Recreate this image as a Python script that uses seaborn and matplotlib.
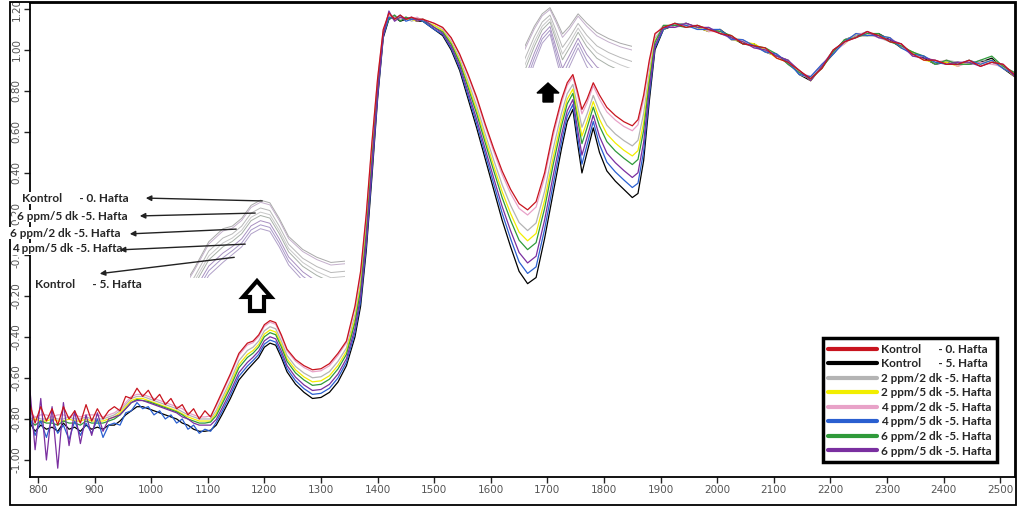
import matplotlib
matplotlib.use("Agg")
import matplotlib.pyplot as plt
import numpy as np
import pandas as pd
import seaborn as sns
from matplotlib.lines import Line2D
from matplotlib.patches import Polygon, Rectangle, FancyArrowPatch

# Dalga boyu (nm)
wavenumber = [
    786, 795, 805, 815, 825, 835, 845, 855, 865, 875, 885, 895, 905, 915, 925, 935, 945,
    955, 965, 975, 985, 995, 1005, 1015, 1025, 1035, 1045, 1055, 1065, 1075, 1085, 1095, 1105,
    1115, 1125, 1140, 1155, 1170, 1180, 1190, 1200, 1210, 1220, 1230, 1240, 1255, 1270, 1285,
    1300, 1315, 1330, 1345, 1360, 1370, 1380, 1390, 1400, 1410,
    1420, 1430, 1440, 1450, 1460, 1470, 1480, 1490, 1500,
    1515, 1530, 1545, 1560, 1575, 1590, 1605, 1620, 1635, 1650, 1665, 1680,
    1695, 1710, 1725, 1735, 1745, 1753, 1761, 1770, 1781, 1792, 1805, 1820, 1835, 1850,
    1860, 1870, 1880, 1890,
    1905, 1925, 1945, 1965, 1985, 2005, 2025, 2045, 2065, 2085, 2105, 2125, 2145, 2165,
    2185, 2205, 2225, 2245, 2265, 2285, 2305, 2325, 2345, 2365, 2385, 2405, 2425, 2445,
    2465, 2485, 2505, 2525,
]

kontrol_0 = [
    -0.73, -0.82, -0.74, -0.81, -0.75, -0.83, -0.74, -0.80, -0.76, -0.82, -0.73, -0.81, -0.75,
    -0.80, -0.76, -0.74, -0.76, -0.69, -0.70, -0.65, -0.69, -0.66, -0.71, -0.68, -0.73, -0.70,
    -0.75, -0.73, -0.78, -0.75, -0.80, -0.76, -0.79,
    -0.73, -0.67, -0.58, -0.48, -0.43, -0.42, -0.39, -0.34, -0.32, -0.33, -0.39, -0.46, -0.51,
    -0.54, -0.56, -0.555, -0.53, -0.48, -0.42, -0.25, -0.08, 0.20, 0.55, 0.86, 1.10,
    1.18, 1.15, 1.17, 1.15, 1.16, 1.15, 1.15, 1.14, 1.13,
    1.11, 1.06, 0.98, 0.88, 0.77, 0.64, 0.52, 0.41, 0.32, 0.25, 0.22, 0.26,
    0.40, 0.60, 0.76, 0.84, 0.88, 0.80, 0.71, 0.76, 0.84, 0.78, 0.72, 0.68, 0.65, 0.63, 0.66,
    0.78, 0.95, 1.08,
    1.11, 1.13, 1.11, 1.12, 1.10, 1.08, 1.07, 1.03, 1.02, 1.01, 0.96, 0.94, 0.90, 0.86, 0.91,
    1.00, 1.04, 1.06, 1.09, 1.07, 1.04, 1.03, 0.98, 0.95, 0.95, 0.93, 0.93, 0.95, 0.92, 0.94,
    0.93, 0.88,
]

kontrol_5 = [
    -0.82, -0.86, -0.83, -0.85, -0.84, -0.86, -0.82, -0.85, -0.84, -0.86, -0.83, -0.85, -0.84,
    -0.85, -0.83, -0.83, -0.81, -0.78, -0.76, -0.74, -0.74, -0.75, -0.76, -0.77, -0.78, -0.79,
    -0.80, -0.82, -0.83, -0.85, -0.86, -0.86, -0.855,
    -0.83, -0.78, -0.70, -0.61, -0.56, -0.53, -0.50, -0.45, -0.43, -0.44, -0.50, -0.57, -0.63,
    -0.67, -0.70, -0.695, -0.67, -0.62, -0.54, -0.40, -0.25, 0.02, 0.38, 0.76, 1.06,
    1.15, 1.16, 1.14, 1.15, 1.15, 1.14, 1.14, 1.12, 1.10,
    1.07, 1.00, 0.90, 0.76, 0.62, 0.47, 0.32, 0.17, 0.04, -0.08, -0.14, -0.11,
    0.08, 0.30, 0.52, 0.65, 0.71, 0.55, 0.40, 0.50, 0.62, 0.50, 0.41, 0.36, 0.32, 0.28, 0.30,
    0.46, 0.75, 1.00,
    1.10, 1.12, 1.13, 1.11, 1.09, 1.10, 1.06, 1.03, 1.03, 0.99, 0.97, 0.95, 0.88, 0.85, 0.92,
    0.98, 1.05, 1.07, 1.07, 1.08, 1.05, 1.01, 0.99, 0.96, 0.93, 0.94, 0.94, 0.93, 0.94, 0.96,
    0.91, 0.87,
]

ppm2_dk2 = [
    -0.80, -0.79, -0.80, -0.80, -0.79, -0.80, -0.80, -0.79, -0.80, -0.80, -0.79, -0.80, -0.80,
    -0.80, -0.79, -0.78, -0.76, -0.73, -0.70, -0.69, -0.69, -0.70, -0.71, -0.72, -0.73, -0.74,
    -0.75, -0.765, -0.78, -0.79, -0.80, -0.80, -0.80,
    -0.758, -0.70, -0.614, -0.516, -0.466, -0.45, -0.42, -0.37, -0.35, -0.36, -0.42, -0.49,
    -0.544, -0.576, -0.599, -0.594, -0.569, -0.519, -0.454, -0.292, -0.128, 0.15, 0.502, 0.832,
    1.089,
    1.16, 1.17, 1.15, 1.16, 1.14, 1.15, 1.15, 1.13, 1.12,
    1.099, 1.043, 0.958, 0.846, 0.728, 0.592, 0.464, 0.343, 0.242, 0.158, 0.119, 0.156,
    0.31, 0.516, 0.693, 0.787, 0.832, 0.73, 0.623, 0.687, 0.778, 0.702, 0.633, 0.59, 0.558,
    0.532, 0.559, 0.69, 0.894, 1.058,
    1.11, 1.12, 1.13, 1.10, 1.11, 1.08, 1.06, 1.05, 1.02, 0.99, 0.97, 0.95, 0.88, 0.86, 0.93,
    0.98, 1.05, 1.07, 1.09, 1.06, 1.04, 1.03, 0.98, 0.97, 0.93, 0.95, 0.94, 0.93, 0.95, 0.94,
    0.91, 0.88,
]

ppm2_dk5 = [
    -0.81, -0.80, -0.81, -0.81, -0.80, -0.81, -0.81, -0.80, -0.81, -0.81, -0.80, -0.81, -0.81,
    -0.81, -0.80, -0.79, -0.77, -0.74, -0.71, -0.70, -0.70, -0.71, -0.72, -0.73, -0.74, -0.75,
    -0.76, -0.775, -0.79, -0.80, -0.81, -0.81, -0.81,
    -0.772, -0.716, -0.63, -0.535, -0.485, -0.466, -0.436, -0.386, -0.366, -0.376, -0.436,
    -0.506, -0.56, -0.595, -0.619, -0.614, -0.589, -0.539, -0.47, -0.313, -0.151, 0.124, 0.479,
    0.818, 1.083,
    1.16, 1.15, 1.16, 1.15, 1.15, 1.14, 1.15, 1.13, 1.12,
    1.093, 1.035, 0.946, 0.83, 0.707, 0.569, 0.436, 0.309, 0.202, 0.111, 0.069, 0.105,
    0.266, 0.474, 0.659, 0.76, 0.809, 0.695, 0.58, 0.651, 0.748, 0.662, 0.59, 0.546, 0.511,
    0.483, 0.509, 0.646, 0.866, 1.046,
    1.10, 1.13, 1.12, 1.11, 1.09, 1.10, 1.05, 1.04, 1.03, 1.00, 0.96, 0.94, 0.90, 0.85, 0.92,
    1.00, 1.03, 1.08, 1.07, 1.07, 1.06, 1.01, 0.99, 0.95, 0.94, 0.94, 0.92, 0.95, 0.93, 0.95,
    0.92, 0.87,
]

ppm4_dk2 = [
    -0.77, -0.79, -0.78, -0.78, -0.79, -0.78, -0.78, -0.79, -0.78, -0.79, -0.78, -0.78, -0.78,
    -0.79, -0.78, -0.77, -0.75, -0.72, -0.69, -0.68, -0.68, -0.69, -0.70, -0.71, -0.72, -0.73,
    -0.74, -0.75, -0.77, -0.78, -0.79, -0.79, -0.785,
    -0.737, -0.678, -0.588, -0.489, -0.439, -0.428, -0.398, -0.348, -0.328, -0.338, -0.398,
    -0.468, -0.518, -0.549, -0.57, -0.565, -0.54, -0.49, -0.428, -0.26, -0.092, 0.187, 0.538,
    0.853, 1.097,
    1.17, 1.16, 1.15, 1.16, 1.15, 1.16, 1.14, 1.14, 1.13,
    1.107, 1.056, 0.974, 0.872, 0.76, 0.628, 0.506, 0.393, 0.30, 0.227, 0.195, 0.234,
    0.378, 0.579, 0.743, 0.827, 0.868, 0.783, 0.688, 0.742, 0.825, 0.76, 0.698, 0.658, 0.627,
    0.606, 0.635, 0.758, 0.936, 1.074,
    1.12, 1.11, 1.12, 1.12, 1.09, 1.09, 1.05, 1.05, 1.01, 1.00, 0.98, 0.93, 0.89, 0.87, 0.93,
    0.99, 1.03, 1.08, 1.08, 1.06, 1.06, 1.02, 0.97, 0.97, 0.94, 0.95, 0.92, 0.94, 0.94, 0.93,
    0.92, 0.89,
]

ppm4_dk5 = [
    -0.79, -0.88, -0.81, -0.89, -0.80, -0.87, -0.83, -0.90, -0.81, -0.88, -0.82, -0.87, -0.80,
    -0.89, -0.83, -0.82, -0.83, -0.77, -0.76, -0.72, -0.75, -0.74, -0.78, -0.76, -0.80, -0.78,
    -0.82, -0.80, -0.85, -0.83, -0.87, -0.85, -0.86,
    -0.816, -0.765, -0.683, -0.592, -0.542, -0.515, -0.485, -0.435, -0.415, -0.425, -0.485,
    -0.555, -0.613, -0.652, -0.68, -0.675, -0.65, -0.60, -0.523, -0.379, -0.226, 0.045, 0.404,
    0.774, 1.066,
    1.16, 1.15, 1.17, 1.14, 1.15, 1.15, 1.14, 1.12, 1.10,
    1.076, 1.008, 0.911, 0.777, 0.641, 0.494, 0.348, 0.204, 0.079, -0.034, -0.09, -0.058,
    0.125, 0.342, 0.554, 0.677, 0.734, 0.585, 0.443, 0.536, 0.651, 0.539, 0.453, 0.405, 0.366,
    0.329, 0.35, 0.505, 0.778, 1.011,
    1.10, 1.13, 1.12, 1.10, 1.10, 1.10, 1.05, 1.05, 1.02, 0.99, 0.98, 0.94, 0.88, 0.87, 0.93,
    0.98, 1.04, 1.08, 1.07, 1.07, 1.06, 1.01, 0.98, 0.97, 0.94, 0.93, 0.93, 0.95, 0.93, 0.95,
    0.91, 0.88,
]

ppm6_dk2 = [
    -0.81, -0.83, -0.81, -0.82, -0.82, -0.83, -0.81, -0.82, -0.82, -0.83, -0.81, -0.82, -0.82,
    -0.82, -0.81, -0.80, -0.78, -0.75, -0.72, -0.705, -0.71, -0.715, -0.725, -0.735, -0.745,
    -0.755, -0.765, -0.78, -0.80, -0.81, -0.82, -0.82, -0.815,
    -0.784, -0.729, -0.645, -0.55, -0.50, -0.479, -0.449, -0.399, -0.379, -0.389, -0.449,
    -0.519, -0.575, -0.61, -0.636, -0.631, -0.606, -0.556, -0.485, -0.331, -0.172, 0.103,
    0.458, 0.806, 1.078,
    1.15, 1.17, 1.14, 1.16, 1.15, 1.15, 1.14, 1.13, 1.11,
    1.088, 1.028, 0.937, 0.815, 0.689, 0.548, 0.412, 0.28, 0.169, 0.072, 0.026, 0.06,
    0.227, 0.438, 0.63, 0.737, 0.788, 0.665, 0.543, 0.62, 0.721, 0.629, 0.553, 0.507, 0.472,
    0.441, 0.466, 0.607, 0.842, 1.037,
    1.12, 1.12, 1.11, 1.12, 1.10, 1.09, 1.07, 1.03, 1.02, 1.01, 0.98, 0.93, 0.89, 0.86, 0.91,
    0.99, 1.05, 1.06, 1.08, 1.08, 1.04, 1.02, 0.99, 0.97, 0.93, 0.95, 0.93, 0.93, 0.95, 0.97,
    0.92, 0.89,
]

ppm6_dk5 = [
    -0.66, -0.95, -0.70, -1.00, -0.74, -1.04, -0.72, -0.93, -0.76, -0.92, -0.78, -0.88, -0.77,
    -0.86, -0.80, -0.79, -0.78, -0.75, -0.72, -0.71, -0.71, -0.72, -0.73, -0.74, -0.75, -0.76,
    -0.77, -0.79, -0.80, -0.82, -0.83, -0.83, -0.83,
    -0.802, -0.749, -0.666, -0.574, -0.524, -0.499, -0.469, -0.419, -0.399, -0.409, -0.469,
    -0.539, -0.596, -0.634, -0.661, -0.656, -0.631, -0.581, -0.506, -0.358, -0.202, 0.07,
    0.428, 0.788, 1.071,
    1.19, 1.14, 1.16, 1.15, 1.16, 1.14, 1.15, 1.13, 1.11,
    1.081, 1.017, 0.922, 0.794, 0.662, 0.518, 0.376, 0.237, 0.118, 0.012, -0.039, -0.006,
    0.17, 0.384, 0.587, 0.703, 0.758, 0.62, 0.487, 0.573, 0.682, 0.578, 0.497, 0.45, 0.412,
    0.378, 0.401, 0.55, 0.806, 1.022,
    1.11, 1.11, 1.13, 1.11, 1.11, 1.08, 1.06, 1.04, 1.01, 1.00, 0.97, 0.95, 0.90, 0.85, 0.92,
    1.00, 1.04, 1.06, 1.09, 1.06, 1.05, 1.03, 0.97, 0.96, 0.95, 0.93, 0.94, 0.94, 0.92, 0.94,
    0.93, 0.87,
]

# legend order
labels = [
    "Kontrol      - 0. Hafta",
    "Kontrol      - 5. Hafta",
    "2 ppm/2 dk -5. Hafta",
    "2 ppm/5 dk -5. Hafta",
    "4 ppm/2 dk -5. Hafta",
    "4 ppm/5 dk -5. Hafta",
    "6 ppm/2 dk -5. Hafta",
    "6 ppm/5 dk -5. Hafta",
]
values = [kontrol_0, kontrol_5, ppm2_dk2, ppm2_dk5, ppm4_dk2, ppm4_dk5, ppm6_dk2, ppm6_dk5]
colors = ["#c8141e", "#000000", "#b4b4b4", "#f2ee00", "#e8a2c8", "#2a5fd0", "#2f9a3a", "#7a2fa0"]
draw_order = [1, 2, 3, 4, 6, 5, 7, 0]  # kontrol 0 on top

x_ticks = [800, 900, 1000, 1100, 1200, 1300, 1400, 1500, 1600, 1700, 1800, 1900, 2000,
           2100, 2200, 2300, 2400, 2500]
y_ticks = [-1.0, -0.8, -0.6, -0.4, -0.2, 0.0, 0.2, 0.4, 0.6, 0.8, 1.0, 1.2]
y_tick_labels = ["-1.00", "-0.80", "-0.60", "-0.40", "-0.20", "-0.00", "0.20", "0.40",
                 "0.60", "0.80", "1.00", "1.20"]

for v in values:
    assert len(v) == len(wavenumber)

df = pd.DataFrame({"wn": wavenumber})
for lab, v in zip(labels, values):
    df[lab] = v

sns.set_theme(style="white")
plt.rcParams["font.family"] = ["Lato", "DejaVu Sans"]

W, H = 1018, 508
fig = plt.figure(figsize=(W / 100, H / 100), dpi=100)
fig.patch.set_facecolor("white")


def fx(px):
    return px / W


def fy(py):
    return 1 - py / H


ax = fig.add_axes([fx(30), fy(477), fx(985), 474 / H])
for i in draw_order:
    sns.lineplot(data=df, x="wn", y=labels[i], ax=ax, color=colors[i], lw=0.9,
                 legend=False, estimator=None, sort=False)

ax.set_xlim(786, 2526)
ax.set_ylim(-1.083, 1.229)
ax.set_xlabel("")
ax.set_ylabel("")
ax.set_xticks(x_ticks)
ax.set_xticklabels([str(t) for t in x_ticks])
ax.set_yticks(y_ticks)
ax.set_yticklabels(y_tick_labels, rotation=90, va="center")
tick_font = ["Liberation Sans Narrow", "DejaVu Sans"]
for t in ax.get_xticklabels() + ax.get_yticklabels():
    t.set_family(tick_font)
    t.set_fontsize(7.5)
    t.set_color("#555555")
ax.tick_params(axis="both", direction="out", length=4, width=1, color="#222222",
               left=True, bottom=True, pad=2)
for s in ax.spines.values():
    s.set_color("black")
    s.set_linewidth(1.3)

# legend
handles = [Line2D([0], [0], color=c, lw=3) for c in colors]
leg = ax.legend(handles, labels, loc="lower left", bbox_to_anchor=(0.805, 0.032),
                prop={"weight": "bold", "size": 8.5}, frameon=True,
                fancybox=False, framealpha=1, edgecolor="black", handlelength=4.1,
                handletextpad=0.4, labelspacing=0.3, borderpad=0.45, borderaxespad=0)
leg.get_frame().set_linewidth(2.5)

# zoomed insets
ins1 = fig.add_axes([fx(190), fy(278), fx(155), 83 / H])
ins2 = fig.add_axes([fx(525), fy(68), fx(107), 65 / H])
inset_cols = ["#a9a9a9", "#b0a0c8", "#b8b8b8", "#c8c8c8", "#c4b0cc", "#a898c8", "#a8b0a8", "#a890c0"]
for ins, xl, yl in [(ins1, (1135, 1300), (-0.62, -0.30)), (ins2, (1713, 1850), (0.49, 0.91))]:
    for i in draw_order:
        sns.lineplot(data=df, x="wn", y=labels[i], ax=ins, color=inset_cols[i], lw=0.7,
                     legend=False, estimator=None, sort=False)
    ins.set_xlim(*xl)
    ins.set_ylim(*yl)
    ins.set_axis_off()
    ins.patch.set_alpha(0)

# annotations
anno = [
    ("Kontrol      - 0. Hafta", 22, 198, 143, 198, 265, 201),
    ("6 ppm/5 dk -5. Hafta", 17, 216, 137, 216, 258, 213),
    ("6 ppm/2 dk -5. Hafta", 10, 233, 127, 234, 239, 229),
    ("4 ppm/5 dk -5. Hafta", 12, 249, 117, 250, 248, 244),
    ("Kontrol      - 5. Hafta", 35, 285, 97, 274, 237, 257),
]
for txt, tx, ty, hx, hy, lx, ly in anno:
    fig.text(fx(tx), fy(ty), txt, fontsize=8.5, fontweight="bold", va="center", ha="left",
             bbox=dict(facecolor="white", edgecolor="none", pad=0.5))
    arr = FancyArrowPatch((fx(lx), fy(ly)), (fx(hx), fy(hy)), transform=fig.transFigure,
                          arrowstyle="-|>", mutation_scale=8, lw=1, color="#222222",
                          zorder=5)
    fig.add_artist(arr)

# hollow up arrow
big = [(257, 281), (271, 297), (264, 297), (264, 311), (250, 311), (250, 297), (243, 297)]
fig.add_artist(Polygon([(fx(a), fy(b)) for a, b in big], closed=True, transform=fig.transFigure,
                       facecolor="white", edgecolor="black", lw=3, joinstyle="miter", zorder=5))
small = [(548, 83), (559, 93), (553, 93), (553, 102), (543, 102), (543, 93), (537, 93)]
fig.add_artist(Polygon([(fx(a), fy(b)) for a, b in small], closed=True, transform=fig.transFigure,
                       facecolor="black", edgecolor="black", lw=1, zorder=5))

# outer frame
fig.add_artist(Rectangle((fx(10), fy(505)), fx(1006), 503 / H, transform=fig.transFigure,
                         fill=False, edgecolor="black", lw=1.3))

fig.savefig("out.png", dpi=100)
